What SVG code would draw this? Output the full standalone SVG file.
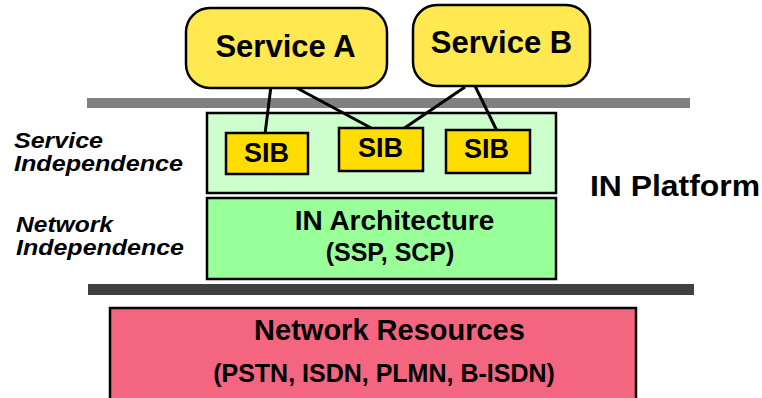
<svg xmlns="http://www.w3.org/2000/svg" width="762" height="398" viewBox="0 0 762 398">
<style>
text{font-family:"Liberation Sans",Arial,sans-serif;font-weight:bold;fill:#000}
.svc{fill:#FFE850;stroke:#000;stroke-width:2.5}
.sib{fill:#FFDD00;stroke:#000;stroke-width:2.5}
.c{stroke:#000;stroke-width:3;fill:none}
.lbl{font-style:italic;font-size:22px}
</style>
<rect x="87" y="98" width="603" height="10" fill="#808080"/>
<rect x="88" y="284" width="606" height="11" fill="#404040"/>
<g id="service-independence-layer">
<rect x="207" y="113" width="349" height="80" fill="#CCFFCC" stroke="#000" stroke-width="2.5"/>
</g>
<g id="connectors">
<line class="c" x1="271" y1="86" x2="265" y2="134"/>
<line class="c" x1="295" y1="87" x2="373" y2="129"/>
<line class="c" x1="465" y1="87" x2="403" y2="129"/>
<line class="c" x1="475" y1="86" x2="497" y2="131"/>
</g>
<g id="service-a">
<rect class="svc" x="186" y="8" width="201" height="80" rx="24"/>
<text x="285.5" y="57" font-size="31" text-anchor="middle">Service A</text>
</g>
<g id="service-b">
<rect class="svc" x="413" y="5" width="177" height="81" rx="24"/>
<text x="501.5" y="53" font-size="31" text-anchor="middle">Service B</text>
</g>
<g id="sib-1">
<rect class="sib" x="226" y="133" width="82" height="41"/>
<text x="266.5" y="162" font-size="27" text-anchor="middle">SIB</text>
</g>
<g id="sib-2">
<rect class="sib" x="339" y="128" width="84" height="43"/>
<text x="380.5" y="157" font-size="27" text-anchor="middle">SIB</text>
</g>
<g id="sib-3">
<rect class="sib" x="446" y="130" width="84" height="43"/>
<text x="486.5" y="158" font-size="27" text-anchor="middle">SIB</text>
</g>
<g id="in-architecture">
<rect x="207" y="198" width="349" height="81" fill="#99FF99" stroke="#000" stroke-width="2.5"/>
<text x="394.5" y="230" font-size="28" text-anchor="middle">IN Architecture</text>
<text x="390" y="261" font-size="25" text-anchor="middle">(SSP, SCP)</text>
</g>
<g id="network-resources">
<rect x="110" y="308" width="526" height="95" fill="#F46680" stroke="#000" stroke-width="2.5"/>
<text x="389.5" y="340" font-size="29" text-anchor="middle">Network Resources</text>
<text x="384" y="382" font-size="25" text-anchor="middle">(PSTN, ISDN, PLMN, B-ISDN)</text>
</g>
<g id="labels">
<text class="lbl" x="14" y="148" textLength="89" lengthAdjust="spacingAndGlyphs">Service</text>
<text class="lbl" x="14" y="171" textLength="169" lengthAdjust="spacingAndGlyphs">Independence</text>
<text class="lbl" x="16" y="232" textLength="97" lengthAdjust="spacingAndGlyphs">Network</text>
<text class="lbl" x="16" y="255" textLength="168" lengthAdjust="spacingAndGlyphs">Independence</text>
<text x="590" y="196" font-size="30" textLength="170" lengthAdjust="spacingAndGlyphs">IN Platform</text>
</g>
</svg>
